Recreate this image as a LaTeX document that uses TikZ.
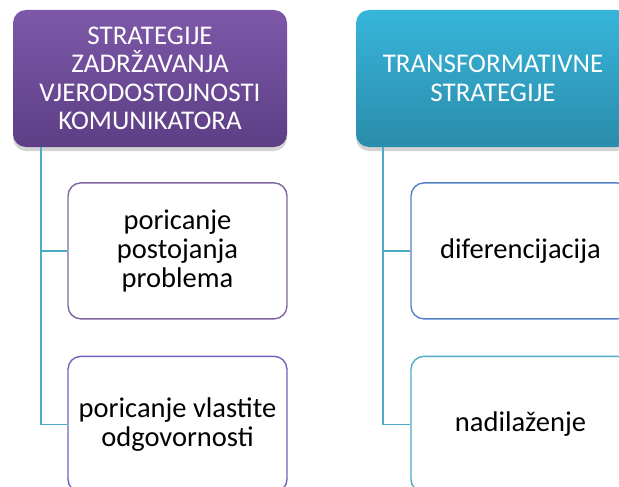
\documentclass[tikz,border=0pt]{standalone}
\usepackage{fontspec}
\setmainfont{Carlito}
\usetikzlibrary{positioning}
\usetikzlibrary{shadows}

\definecolor{purpletop}{HTML}{7D58A9}
\definecolor{purplebot}{HTML}{5D3E85}
\definecolor{cyantop}{HTML}{37B5DA}
\definecolor{cyanbot}{HTML}{2B8CAB}
\definecolor{linkcol}{HTML}{4BACC6}
\definecolor{violetcol}{HTML}{8064A2}
\definecolor{indigocol}{HTML}{6A66BE}
\definecolor{bluecol}{HTML}{5580C5}

\tikzset{
  header/.style={rounded corners=13pt, minimum width=274pt, minimum height=137pt,
    align=center, text=white, font=\fontsize{27}{28.5}\selectfont,
    drop shadow={shadow xshift=0pt, shadow yshift=-4pt, opacity=0.35}},
  child/.style={draw, line width=1.4pt, rounded corners=13pt, fill=white,
    minimum width=219pt, minimum height=136pt, align=center,
    font=\fontsize{28.5}{29}\selectfont},
  link/.style={draw=linkcol, line width=1.6pt}
}

\begin{document}
\begin{tikzpicture}[x=1pt,y=1pt]
\useasboundingbox (0,0) rectangle (619,-487);
\clip (0,0) rectangle (619,-487);

% left column
\node[header, top color=purpletop, bottom color=purplebot] (hdrA) at (150,-78.5)
  {STRATEGIJE\\ZADRŽAVANJA\\VJERODOSTOJNOSTI\\KOMUNIKATORA};
\node[child, draw=violetcol] (cA1) [below=35pt of hdrA.south, xshift=27.5pt, anchor=north]
  {poricanje\\postojanja\\problema};
\node[child, draw=indigocol] (cA2) [below=36pt of cA1]
  {poricanje vlastite\\odgovornosti};

% right column
\node[header, top color=cyantop, bottom color=cyanbot] (hdrB) at (493,-78.5)
  {TRANSFORMATIVNE\\STRATEGIJE};
\node[child, draw=bluecol] (cB1) [below=35pt of hdrB.south, xshift=27.5pt, anchor=north]
  {diferencijacija};
\node[child, draw=linkcol] (cB2) [below=36pt of cB1]
  {nadilaženje};

% connectors
\coordinate (jA) at ([xshift=28pt]hdrA.south west);
\coordinate (jB) at ([xshift=27pt]hdrB.south west);
\draw[link] (jA) |- (cA1.west);
\draw[link] (jA) |- (cA2.west);
\draw[link] (jB) |- (cB1.west);
\draw[link] (jB) |- (cB2.west);
\end{tikzpicture}
\end{document}
